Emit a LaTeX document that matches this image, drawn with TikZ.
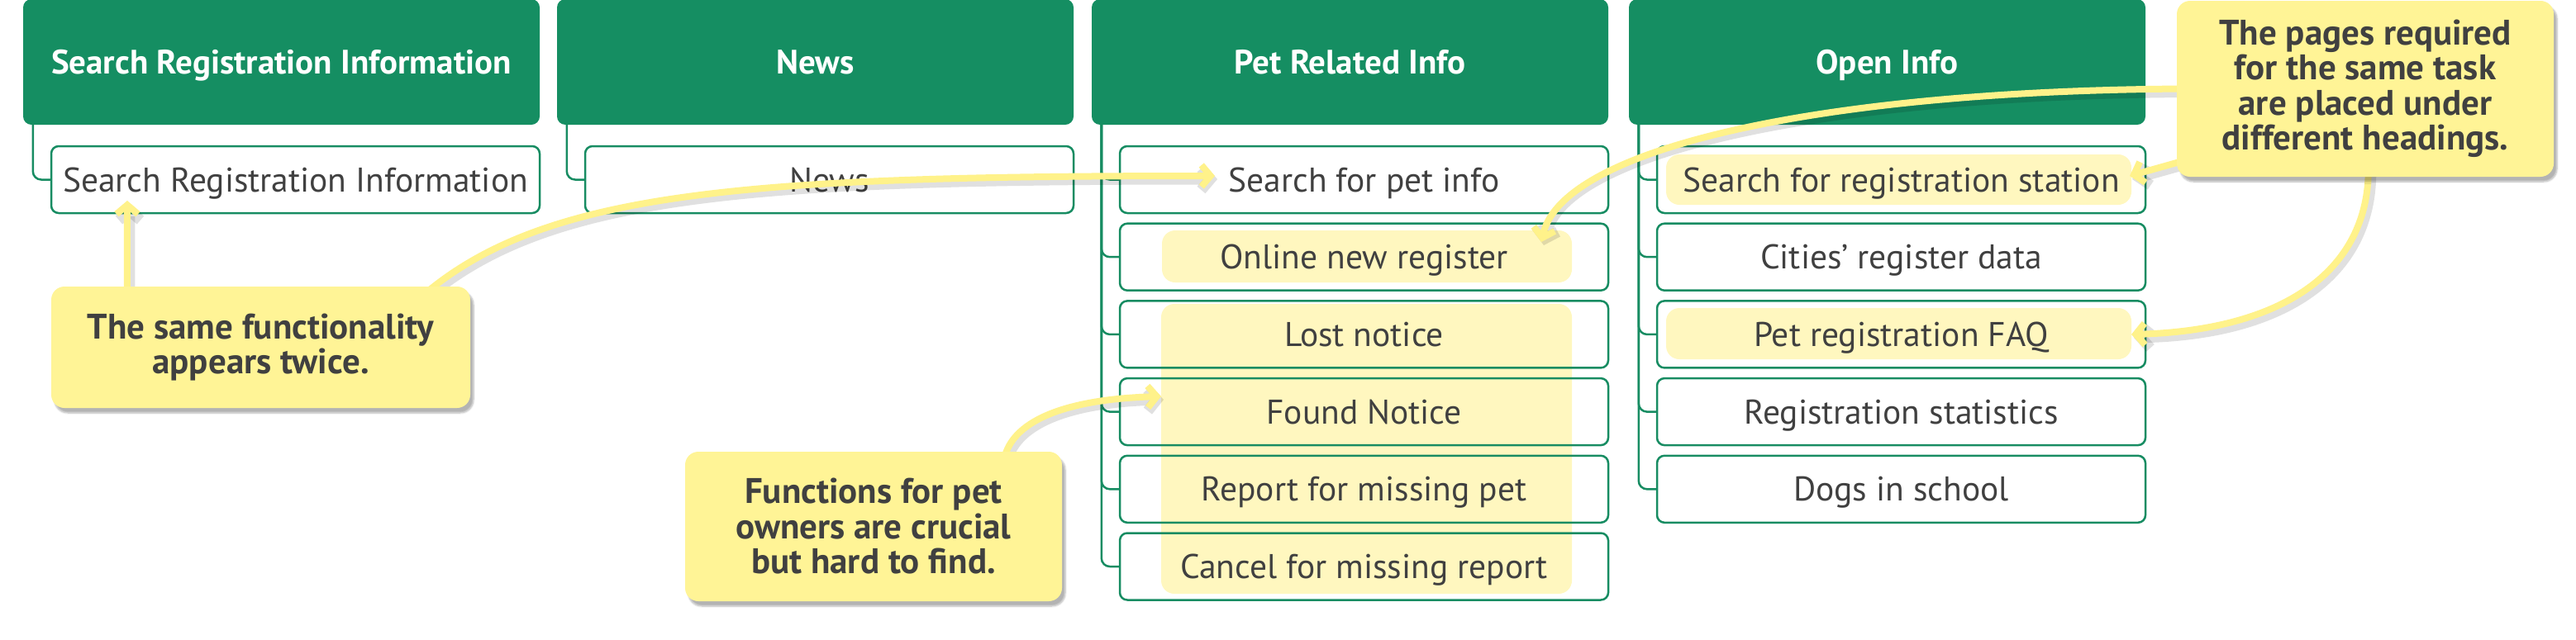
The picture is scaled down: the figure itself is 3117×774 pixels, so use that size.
\documentclass[tikz,border=0pt]{standalone}
\usepackage{fontspec}
\setmainfont{PT Sans}
\usetikzlibrary{arrows.meta,calc,shadows.blur}
\definecolor{hdrgreen}{HTML}{158E62}
\definecolor{boxgreen}{HTML}{178C62}
\definecolor{callyellow}{HTML}{FFF496}
\definecolor{arryellow}{HTML}{FFF28A}
\definecolor{hlyellow}{HTML}{FFF7BF}
\definecolor{txtgray}{HTML}{404040}
\pgfdeclarelayer{hl}\pgfdeclarelayer{boxes}\pgfdeclarelayer{conn}
\pgfsetlayers{hl,boxes,conn,main}
\begin{document}
\begin{tikzpicture}[x=1pt,y=-1pt,
  hdr/.style={fill=hdrgreen, rounded corners=10pt, minimum width=625pt, minimum height=152pt,
    text=white, font=\fontsize{41}{46}\selectfont\bfseries, inner sep=0pt,
    text height=29pt, text depth=0pt},
  item/.style={draw=boxgreen, line width=2.5pt, rounded corners=9pt, minimum width=591pt,
    minimum height=81pt, text=txtgray, font=\fontsize{41.5}{46}\selectfont, inner sep=0pt,
    text height=29pt, text depth=0pt},
  tree/.style={draw=boxgreen, line width=2.5pt, rounded corners=10pt},
  hlbox/.style={fill=hlyellow, rounded corners=16pt},
  callout/.style={fill=callyellow, rounded corners=16pt, text=txtgray,
    font=\fontsize{43}{42.5}\selectfont\bfseries, align=center, inner sep=0pt,
    blur shadow={shadow xshift=4pt, shadow yshift=-6pt, shadow blur steps=6, shadow opacity=30}},
  yarrow/.style={draw=arryellow, line width=8pt, -{Straight Barb[length=11pt,width=26pt]},
    preaction={draw=black, draw opacity=.12, line width=13pt, transform canvas={xshift=3pt,yshift=-4pt}}},
]
\useasboundingbox (0,0) rectangle (3117,774);

% callouts (main layer)
\node[callout, minimum width=507pt, minimum height=147pt] (cA) at (315.5,420.5)
  {The same functionality\\appears twice.};
\node[callout, minimum width=456pt, minimum height=181pt] (cB) at (1057,637.5)
  {Functions for pet\\owners are crucial\\but hard to find.};
\node[callout, minimum width=456pt, minimum height=213pt] (cC) at (2862,107.5)
  {The pages required\\for the same task\\are placed under\\different headings.};

\begin{pgfonlayer}{hl}
  \fill[hlbox] (1406,279) rectangle (1902,342);
  \fill[hlbox] (1405,368) rectangle (1902,719);
  \fill[hlbox] (2016,187) rectangle (2579,248);
  \fill[hlbox] (2016,373) rectangle (2579,435);
\end{pgfonlayer}

\begin{pgfonlayer}{boxes}
  \node[hdr] (h1) at (340.5,75) {Search Registration Information};
  \node[hdr] (h2) at (986.5,75) {News};
  \node[hdr] (h3) at (1633.5,75) {Pet Related Info};
  \node[hdr] (h4) at (2283.5,75) {Open Info};

  \node[item] (c1a) at (357.5,217.5) {Search Registration Information};

  \node[item] (c2a) at (1003.5,217.5) {News};

  \node[item] (c3a) at (1650.5,217.5) {Search for pet info};
  \node[item] (c3b) at (1650.5,311.2) {Online new register};
  \node[item] (c3c) at (1650.5,404.9) {Lost notice};
  \node[item] (c3d) at (1650.5,498.6) {Found Notice};
  \node[item] (c3e) at (1650.5,592.3) {Report for missing pet};
  \node[item] (c3f) at (1650.5,686.0) {Cancel for missing report};

  \node[item] (c4a) at (2300.5,217.5) {Search for registration station};
  \node[item] (c4b) at (2300.5,311.2) {Cities’ register data};
  \node[item] (c4c) at (2300.5,404.9) {Pet registration FAQ};
  \node[item] (c4d) at (2300.5,498.6) {Registration statistics};
  \node[item] (c4e) at (2300.5,592.3) {Dogs in school};

  \draw[tree] ($(h1.south west)+(12,0)$) |- (c1a.west);
  \draw[tree] ($(h2.south west)+(12,0)$) |- (c2a.west);
  \foreach \c in {c3a,c3b,c3c,c3d,c3e,c3f}
    \draw[tree] ($(h3.south west)+(12,0)$) |- (\c.west);
  \foreach \c in {c4a,c4b,c4c,c4d,c4e}
    \draw[tree] ($(h4.south west)+(12,0)$) |- (\c.west);
\end{pgfonlayer}

\coordinate (t1) at (154,243);
\coordinate (t2) at (1470,213);
\coordinate (t3) at (1405,480);
\coordinate (t4) at (1865,293);
\coordinate (t5) at (2577,213);
\coordinate (t6) at (2579,405);

\begin{pgfonlayer}{conn}
  \draw[yarrow] ($(cA.north west)+(92,10)$) -- (t1);
  \draw[yarrow] ($(cA.north west)+(451,10)$) .. controls (660,232) and (900,213) .. (t2);
  \draw[yarrow] ($(cB.north west)+(386,10)$) .. controls (1225,505) and (1300,483) .. (t3);
  \draw[yarrow] ($(cC.west)+(10,0)$) .. controls (2200,110) and (1890,180) .. (t4);
  \draw[yarrow] ($(cC.south west)+(10,-20)$) -- (t5);
  \draw[yarrow] ($(cC.south west)+(232,-10)$) .. controls (2866,330) and (2760,400) .. (t6);
\end{pgfonlayer}
\end{tikzpicture}
\end{document}
